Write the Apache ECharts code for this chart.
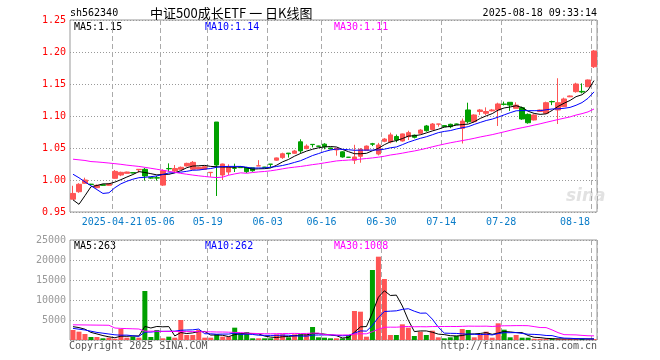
<!DOCTYPE html>
<html><head><meta charset="utf-8">
<script src="https://cdn.jsdelivr.net/npm/echarts@6/dist/echarts.min.js"></script>
<style>html,body{margin:0;padding:0;background:#fff}#c{width:660px;height:360px}</style>
</head><body><div id="c"></div>
<script>
const dates = ['2025-04-10','2025-04-11','2025-04-14','2025-04-15','2025-04-16','2025-04-17','2025-04-18','2025-04-21','2025-04-22','2025-04-23','2025-04-24','2025-04-25','2025-04-28','2025-04-29','2025-04-30','2025-05-06','2025-05-07','2025-05-08','2025-05-09','2025-05-12','2025-05-13','2025-05-14','2025-05-15','2025-05-19','2025-05-20','2025-05-21','2025-05-22','2025-05-23','2025-05-26','2025-05-27','2025-05-28','2025-05-29','2025-05-30','2025-06-03','2025-06-04','2025-06-05','2025-06-06','2025-06-09','2025-06-10','2025-06-11','2025-06-12','2025-06-13','2025-06-16','2025-06-17','2025-06-18','2025-06-19','2025-06-20','2025-06-23','2025-06-24','2025-06-25','2025-06-26','2025-06-27','2025-06-30','2025-07-01','2025-07-02','2025-07-03','2025-07-04','2025-07-07','2025-07-08','2025-07-09','2025-07-10','2025-07-11','2025-07-14','2025-07-15','2025-07-16','2025-07-17','2025-07-18','2025-07-21','2025-07-22','2025-07-23','2025-07-24','2025-07-25','2025-07-28','2025-07-29','2025-07-30','2025-07-31','2025-08-01','2025-08-04','2025-08-05','2025-08-06','2025-08-07','2025-08-08','2025-08-11','2025-08-12','2025-08-13','2025-08-14','2025-08-15','2025-08-18'];

const opens = [0.970,0.9817,0.9948,0.9935,0.988,0.9925,0.9917,1.0026,1.0078,1.0104,
1.0115,1.016,1.0167,1.0036,1.0036,0.992,1.018,1.014,1.0167,1.0219,
1.0167,1.017,1.0167,1.0115,1.0906,1.0078,1.0125,1.0185,1.0195,1.0195,
1.019,1.022,1.020,1.0248,1.031,1.035,1.042,1.0417,1.0597,1.049,
1.0557,1.053,1.056,1.050,1.047,1.044,1.0356,1.031,1.037,1.0465,
1.0565,1.0406,1.0605,1.0595,1.068,1.061,1.0677,1.070,1.073,1.0844,
1.079,1.0873,1.085,1.087,1.0875,1.0807,1.1094,1.0911,1.107,1.1042,
1.108,1.1094,1.1185,1.1214,1.112,1.113,1.1026,1.0938,1.107,1.1042,
1.1226,1.1094,1.1146,1.13,1.138,1.1385,1.1458,1.177];

const closes = [0.979,0.9933,1.000,0.993,0.9917,0.9917,0.9937,1.0135,1.012,1.0125,
1.011,1.0167,1.0063,1.003,1.003,1.0146,1.0175,1.018,1.0198,1.026,
1.0276,1.0198,1.0208,1.012,1.0234,1.025,1.0198,1.0183,1.0193,1.013,
1.0145,1.0222,1.0198,1.0245,1.0345,1.041,1.041,1.0453,1.0455,1.053,
1.0553,1.0527,1.052,1.0485,1.0495,1.036,1.0354,1.036,1.048,1.053,
1.056,1.0547,1.064,1.0705,1.0625,1.072,1.074,1.0667,1.078,1.077,
1.0875,1.0875,1.0833,1.0833,1.087,1.092,1.091,1.1016,1.1094,1.107,
1.1094,1.1188,1.1182,1.117,1.117,1.0953,1.0895,1.1016,1.1094,1.1208,
1.1222,1.1208,1.1266,1.1313,1.15,1.1375,1.1563,1.2016];

const lows = [0.970,0.980,0.994,0.9925,0.987,0.991,0.991,1.002,1.006,1.010,
1.0105,1.0115,0.999,1.002,0.999,0.9906,1.013,1.0115,1.0167,1.021,
1.0156,1.0167,1.0156,1.005,0.975,1.000,1.0078,1.0125,1.019,1.011,
1.013,1.022,1.0195,1.0195,1.030,1.033,1.035,1.041,1.0417,1.048,
1.051,1.052,1.048,1.048,1.038,1.035,1.035,1.025,1.027,1.046,
1.053,1.0385,1.059,1.0573,1.059,1.060,1.0625,1.065,1.072,1.0755,
1.078,1.0833,1.083,1.081,1.0865,1.057,1.0885,1.0896,1.1016,1.1016,
1.107,1.0844,1.1165,1.108,1.112,1.094,1.088,1.093,1.1065,1.1036,
1.117,1.0875,1.114,1.1295,1.1365,1.1354,1.145,1.175];

const highs = [0.991,0.995,1.0036,0.994,0.993,0.993,0.9945,1.0156,1.013,1.013,
1.012,1.0167,1.0188,1.0045,1.0063,1.0167,1.026,1.0234,1.021,1.027,
1.0297,1.0208,1.0215,1.012,1.0906,1.0255,1.0245,1.0255,1.02,1.0205,
1.019,1.031,1.0205,1.0248,1.035,1.0427,1.042,1.047,1.0636,1.0557,
1.0557,1.0535,1.0575,1.0505,1.050,1.045,1.036,1.055,1.050,1.054,
1.058,1.058,1.0655,1.074,1.071,1.0725,1.077,1.071,1.0795,1.086,
1.089,1.0875,1.0855,1.088,1.088,1.096,1.1208,1.1026,1.111,1.1135,
1.111,1.1208,1.1225,1.1214,1.1214,1.1146,1.104,1.1026,1.11,1.1224,
1.124,1.159,1.1287,1.132,1.152,1.151,1.157,1.203];

const volumes = [2500,2083,1500,750,750,420,580,300,2750,580,
830,580,12250,750,2500,420,830,580,5000,1250,
1250,2500,580,580,1417,830,830,3083,1670,1980,
420,420,420,420,1417,1417,670,1417,1417,1417,
3250,670,580,420,420,420,1250,7250,7080,830,
17500,20830,15250,1250,1250,3920,3080,1000,2080,1250,
2330,670,420,670,1000,2750,2500,670,1250,2080,
580,4170,2580,670,1250,580,580,300,300,280,
260,270,260,250,300,300,230,235];

// moving-average values for the first days (history before the window)
const ma5Head = [0.969,0.962,0.9755,0.9895];
const ma10Head = [1.009,1.0035,0.997,0.991,0.985,0.979,0.980,0.988,0.994];
const ma30Head = [1.0325,1.0315,1.0305,1.0288,1.0282,1.0274,1.0265,1.0255,1.0245,1.0232,
1.0222,1.0212,1.0198,1.0183,1.0168,1.0152,1.0136,1.0120,1.0104,1.0090,
1.0077,1.0065,1.0055,1.0045,1.0038,1.0045,1.0075,1.0095,1.0112];
const volMa5Head = [3333,3100,2700,1900];
const volMa10Head = [2900,2700,2500,2200,1900,1700,1500,1300,1200];
const volMa30Head = [3800,3780,3760,3740,3720,3700,3680,3000,2900,2850,
2800,2750,2200,2200,2200,2150,2150,2150,2100,2100,
2100,2100,2050,2050,2000,2000,1950,1900,1850];

const labelDates = ['2025-04-21','2025-05-06','2025-05-19','2025-06-03','2025-06-16','2025-06-30','2025-07-14','2025-07-28','2025-08-18'];
const labelTexts = ['2025-04-21','05-06','05-19','06-03','06-16','06-30','07-14','07-28','08-18'];
const mainLegend = ['MA5:1.15','MA10:1.14','MA30:1.11'];
const volLegend = ['MA5:263','MA10:262','MA30:1008'];
const maColors = ['#000000','#0000ff','#ff00ff'];

const UP = '#ff5555', DOWN = '#00a000';
const MONO = '"DejaVu Sans Mono", monospace';

function movingAvg(src, n, head) {
  return src.map((v, i) => {
    if (i < head.length) return head[i];
    let s = 0;
    for (let k = i - n + 1; k <= i; k++) s += src[k];
    return s / n;
  });
}

const candleData = dates.map((d, i) => [opens[i], closes[i], lows[i], highs[i]]);
const volData = volumes.map((v, i) => ({ value: v, itemStyle: { color: closes[i] > opens[i] ? UP : DOWN } }));

const ma5 = movingAvg(closes, 5, ma5Head);
const ma10 = movingAvg(closes, 10, ma10Head);
const ma30 = movingAvg(closes, 30, ma30Head);
const vma5 = movingAvg(volumes, 5, volMa5Head);
const vma10 = movingAvg(volumes, 10, volMa10Head);
const vma30 = movingAvg(volumes, 30, volMa30Head);

const isLabel = (i) => labelDates.indexOf(dates[i]) >= 0;
const dashLine = { show: true, interval: (i) => isLabel(i), lineStyle: { type: [5, 3], color: '#aaaaaa', width: 1 } };

const chart = echarts.init(document.getElementById('c'), null, { renderer: 'canvas' });

function lineSeries(data, color, xi, yi) {
  return { type: 'line', data, xAxisIndex: xi, yAxisIndex: yi, symbol: 'none', showSymbol: false,
    lineStyle: { color, width: 1 }, itemStyle: { color }, z: 5, silent: true };
}

const graphic = [
  { type: 'text', x: 70, y: 13, style: { text: 'sh562340', font: '10px ' + MONO, fill: '#000', textAlign: 'left', textVerticalAlign: 'middle' } },
  { type: 'text', x: 150, y: 13, style: { text: '中证500成长ETF 一 日K线图', font: '13px "Noto Sans CJK SC", sans-serif', fill: '#000', textAlign: 'left', textVerticalAlign: 'middle' } },
  { type: 'text', x: 597, y: 13, style: { text: '2025-08-18 09:33:14', font: '10px ' + MONO, fill: '#000', textAlign: 'right', textVerticalAlign: 'middle' } },
  { type: 'text', x: 566, y: 197, style: { text: 'sina', font: 'italic bold 17px "DejaVu Sans", sans-serif', fill: '#e2e2e2', textAlign: 'left', textVerticalAlign: 'middle' } },
  { type: 'text', x: 69, y: 346, style: { text: 'Copyright 2025 SINA.COM', font: '10px ' + MONO, fill: '#555', textAlign: 'left', textVerticalAlign: 'middle' } },
  { type: 'text', x: 597, y: 346, style: { text: 'http://finance.sina.com.cn', font: '10px ' + MONO, fill: '#555', textAlign: 'right', textVerticalAlign: 'middle' } }
];
const legendX = [74, 205, 334];
mainLegend.forEach((t, k) => graphic.push({ type: 'text', x: legendX[k], y: 27, style: { text: t, font: '10px ' + MONO, fill: maColors[k], textAlign: 'left', textVerticalAlign: 'middle' } }));
volLegend.forEach((t, k) => graphic.push({ type: 'text', x: legendX[k], y: 246, style: { text: t, font: '10px ' + MONO, fill: maColors[k], textAlign: 'left', textVerticalAlign: 'middle' } }));

chart.setOption({
  animation: false,
  backgroundColor: '#ffffff',
  grid: [
    { left: 70, right: 63, top: 20, height: 192, show: true, borderColor: '#999', borderWidth: 1 },
    { left: 70, right: 63, top: 240, height: 100, show: true, borderColor: '#999', borderWidth: 1 }
  ],
  xAxis: [
    { type: 'category', gridIndex: 0, data: dates, boundaryGap: true,
      axisLine: { show: false }, axisTick: { show: false },
      axisLabel: { show: true, interval: (i) => isLabel(i), margin: 5,
        formatter: (v) => { const k = labelDates.indexOf(v); if (k < 0) return ''; return (k === labelDates.length - 1 ? '{e|' : '{n|') + labelTexts[k] + '}'; },
        rich: {
          n: { fontFamily: MONO, fontSize: 10, color: '#0a7cc8', padding: [0, 6, 0, 0] },
          e: { fontFamily: MONO, fontSize: 10, color: '#0a7cc8', padding: [0, 38, 0, 0] }
        } },
      splitLine: dashLine },
    { type: 'category', gridIndex: 1, data: dates, boundaryGap: true,
      axisLine: { show: false }, axisTick: { show: false }, axisLabel: { show: false },
      splitLine: dashLine }
  ],
  yAxis: [
    { type: 'value', gridIndex: 0, min: 0.95, max: 1.25, interval: 0.05,
      axisLine: { show: false }, axisTick: { show: false },
      axisLabel: { color: '#ff0000', fontFamily: MONO, fontSize: 10, margin: 4, formatter: (v) => v.toFixed(2) },
      splitLine: { show: true, lineStyle: { type: [1, 2], color: '#999', width: 1 } } },
    { type: 'value', gridIndex: 1, min: 0, max: 25000, interval: 5000,
      axisLine: { show: false }, axisTick: { show: false },
      axisLabel: { color: '#999', fontFamily: MONO, fontSize: 10, margin: 4, formatter: (v) => v === 0 ? '' : String(v) },
      splitLine: { show: true, lineStyle: { type: [1, 2], color: '#999', width: 1 } } }
  ],
  series: [
    { type: 'candlestick', data: candleData, xAxisIndex: 0, yAxisIndex: 0, barWidth: 5,
      itemStyle: { color: UP, color0: DOWN, borderColor: UP, borderColor0: DOWN, borderWidth: 1 }, z: 3, silent: true },
    lineSeries(ma5, maColors[0], 0, 0),
    lineSeries(ma10, maColors[1], 0, 0),
    lineSeries(ma30, maColors[2], 0, 0),
    { type: 'bar', data: volData, xAxisIndex: 1, yAxisIndex: 1, barWidth: 5, z: 3, silent: true },
    lineSeries(vma5, maColors[0], 1, 1),
    lineSeries(vma10, maColors[1], 1, 1),
    lineSeries(vma30, maColors[2], 1, 1)
  ],
  graphic
});
</script>
</body></html>
